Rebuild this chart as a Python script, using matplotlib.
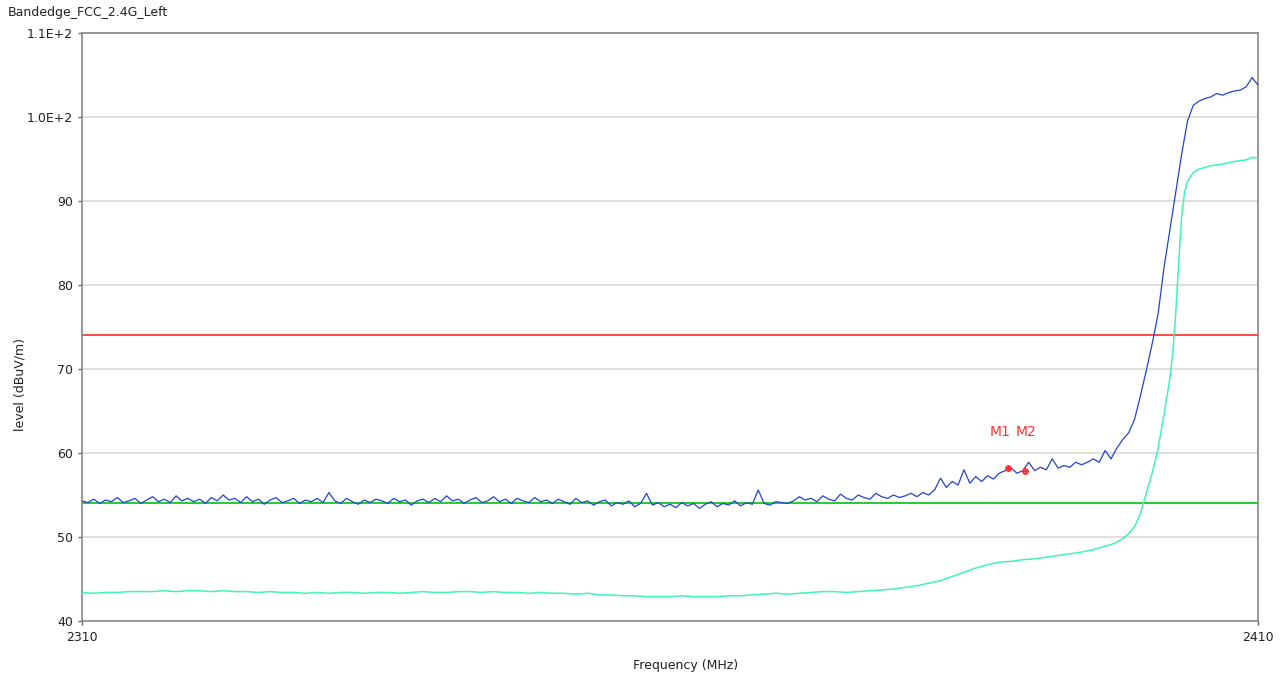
import numpy as np
import matplotlib.pyplot as plt

# Sweep 2310-2410 MHz, trace values
blue_freq = np.linspace(2310, 2410, 201)
blue_level = [
    54.3, 54.1, 54.5, 54.0, 54.4, 54.2, 54.7, 54.1, 54.3, 54.6, 54.0, 54.4, 54.8, 54.2, 54.5, 54.1, 54.9, 54.3, 54.6, 54.2,
    54.5, 54.0, 54.7, 54.3, 55.0, 54.4, 54.6, 54.1, 54.8, 54.2, 54.5, 53.9, 54.4, 54.7, 54.1, 54.3, 54.6, 54.0, 54.4, 54.2,
    54.6, 54.1, 55.3, 54.3, 54.0, 54.6, 54.2, 53.9, 54.4, 54.1, 54.5, 54.3, 54.0, 54.6, 54.2, 54.4, 53.8, 54.3, 54.5, 54.1,
    54.6, 54.2, 54.9, 54.3, 54.5, 54.0, 54.4, 54.7, 54.1, 54.3, 54.8, 54.2, 54.5, 54.0, 54.6, 54.3, 54.1, 54.7, 54.2, 54.4,
    54.0, 54.5, 54.2, 53.9, 54.6, 54.1, 54.3, 53.8, 54.2, 54.4, 53.7, 54.1, 53.9, 54.3, 53.6, 54.0, 55.2, 53.8, 54.1, 53.6,
    53.9, 53.5, 54.1, 53.7, 54.0, 53.4, 53.9, 54.2, 53.6, 54.0, 53.8, 54.3, 53.7, 54.1, 53.9, 55.6, 54.0, 53.8, 54.2, 54.1,
    54.0, 54.3, 54.8, 54.4, 54.6, 54.2, 54.9, 54.5, 54.3, 55.1, 54.6, 54.4, 55.0, 54.7, 54.5, 55.2, 54.8, 54.6, 55.0, 54.7,
    54.9, 55.2, 54.8, 55.3, 55.0, 55.6, 57.0, 55.9, 56.6, 56.2, 58.0, 56.4, 57.2, 56.6, 57.3, 56.9, 57.6, 57.9, 58.2, 57.6,
    57.9, 58.9, 57.9, 58.3, 58.0, 59.3, 58.2, 58.5, 58.3, 58.9, 58.6, 58.9, 59.3, 58.9, 60.3, 59.3, 60.6, 61.6, 62.4, 64.0,
    66.8, 69.8, 73.0, 76.5, 82.0, 86.5, 91.0, 95.5, 99.5, 101.4, 101.9, 102.2, 102.4, 102.8, 102.6, 102.9, 103.1, 103.2, 103.6, 104.7,
    103.8,
]

green_freq = list(range(2310, 2397)) + [
    2397, 2397.5, 2398, 2398.5, 2399, 2399.5, 2400, 2400.5, 2401, 2401.5, 2402, 2402.5, 2402.75,
    2403, 2403.25, 2403.5, 2403.75, 2404, 2404.5, 2405, 2405.5, 2406, 2407, 2408, 2409, 2409.5, 2410,
]
green_level = [
    43.4, 43.3, 43.4, 43.4, 43.5, 43.5, 43.5, 43.6, 43.5, 43.6,
    43.6, 43.5, 43.6, 43.5, 43.5, 43.4, 43.5, 43.4, 43.4, 43.3,
    43.4, 43.3, 43.4, 43.4, 43.3, 43.4, 43.4, 43.3, 43.4, 43.5,
    43.4, 43.4, 43.5, 43.5, 43.4, 43.5, 43.4, 43.4, 43.3, 43.4,
    43.3, 43.3, 43.2, 43.3, 43.1, 43.1, 43.0, 43.0, 42.9, 42.9,
    42.9, 43.0, 42.9, 42.9, 42.9, 43.0, 43.0, 43.1, 43.2, 43.3,
    43.2, 43.3, 43.4, 43.5, 43.5, 43.4, 43.5, 43.6, 43.7, 43.8,
    44.0, 44.2, 44.5, 44.8, 45.3, 45.8, 46.3, 46.7, 47.0, 47.1,
    47.3, 47.4, 47.6, 47.8, 48.0, 48.2, 48.5,
    48.9, 49.1, 49.4, 49.8, 50.4, 51.2, 52.8, 55.2, 57.6, 60.5, 64.5, 68.8, 72.0,
    76.5, 82.5, 88.0, 91.0, 92.3, 93.4, 93.8, 94.0, 94.2, 94.4, 94.7, 94.9, 95.2, 95.1,
]

limit_peak = 74
limit_avg = 54

marker_names = ['M1', 'M2']
marker_freq = [2388.75, 2390.2]
marker_level = [58.2, 57.9]

yticks = [40, 50, 60, 70, 80, 90, 100, 110]
ytick_labels = ['40', '50', '60', '70', '80', '90', '1.0E+2', '1.1E+2']
xticks = [2310, 2410]

fig = plt.figure(figsize=(12.84, 6.75), dpi=100)
ax = fig.add_axes([82 / 1284, 1 - 621 / 675, 1176 / 1284, 588 / 675])

ax.axhline(limit_peak, color='#ff2a2a', lw=1.2, zorder=2)
ax.axhline(limit_avg, color='#22cc33', lw=1.4, zorder=2)
ax.plot(green_freq, green_level, color='#3ff5b0', lw=1.1, zorder=3)
ax.plot(blue_freq, blue_level, color='#2244cc', lw=0.9, zorder=4)

for name, f, lv in zip(marker_names, marker_freq, marker_level):
    ax.plot(f, lv, 'o', ms=4, mfc='#ff7070', mec='#ff2020', mew=0.8, zorder=5)
    ax.plot(f, lv, '+', ms=4, color='#ff2020', mew=0.7, zorder=6)
ax.text(marker_freq[0] - 0.7, 62.5, marker_names[0], color='#ff3030', fontsize=10, ha='center', va='center')
ax.text(marker_freq[1] + 0.1, 62.5, marker_names[1], color='#ff3030', fontsize=10, ha='center', va='center')

ax.set_xlim(2310, 2410)
ax.set_ylim(40, 110)
ax.set_yticks(yticks)
ax.set_yticklabels(ytick_labels)
ax.set_xticks(xticks)
ax.yaxis.grid(True, color='#d9d9d9', lw=1.2)
ax.set_axisbelow(True)

for s in ax.spines.values():
    s.set_color('#888888')
    s.set_linewidth(1.2)
ax.tick_params(axis='both', length=3, width=1, color='#666666', labelsize=9, labelcolor='#222222')
ax.tick_params(axis='x', pad=4)

ax.set_xlabel('Frequency (MHz)', fontsize=9, color='#222222')
ax.xaxis.set_label_coords(0.513, -0.064)
ax.set_ylabel('level (dBuV/m)', fontsize=9, color='#222222')
ax.yaxis.set_label_coords(-0.047, 0.403)

fig.text(8 / 1284, 1 - 6 / 675, 'Bandedge_FCC_2.4G_Left', fontsize=9, color='#222222', ha='left', va='top')

fig.savefig('out.png', dpi=100)
